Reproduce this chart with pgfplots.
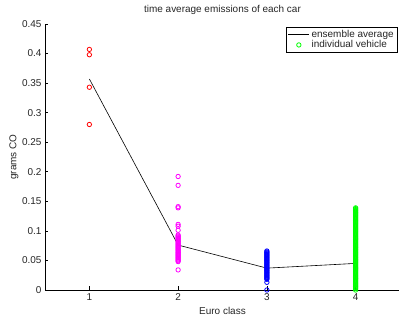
\documentclass[border=0pt]{standalone}
\usepackage{fontspec}
\setmainfont{Liberation Sans}
\usepackage{pgfplots}
\pgfplotsset{compat=1.18}
\definecolor{mred}{rgb}{1,0,0}
\definecolor{mmag}{rgb}{1,0,1}
\definecolor{mblue}{rgb}{0,0,1}
\definecolor{mgreen}{rgb}{0,1,0}
\begin{document}
\begin{tikzpicture}
\begin{axis}[
  name=ax,
  scale only axis,
  width=355bp, height=266bp,
  xmin=0.5, xmax=4.5, ymin=0, ymax=0.45,
  axis x line*=bottom, axis y line*=left,
  axis line style={line width=0.6pt, -},
  tick style={line width=0.6pt, black},
  tick align=inside,
  major tick length=3.5bp,
  xtick={1,2,3,4}, xticklabels={1,2,3,4},
  ytick={0,0.05,0.1,0.15,0.2,0.25,0.3,0.35,0.4,0.45},
  yticklabels={0,0.05,0.1,0.15,0.2,0.25,0.3,0.35,0.4,0.45},
  ticklabel style={font=\fontsize{10}{12}\selectfont, text=black!85},
  label style={font=\fontsize{10}{12}\selectfont, text=black!85},
  title style={font=\fontsize{10}{12}\selectfont, text=black!85},
  title={time average emissions of each car},
  xlabel={Euro class},
  ylabel={grams CO},
  ylabel style={at={(axis description cs:-0.0875,0.5)}, anchor=center},
  legend style={at={(1,1)}, anchor=north east, xshift=-2bp, yshift=-3bp,
    draw=black, line width=0.8pt, font=\fontsize{10}{12}\selectfont,
    inner xsep=2pt, inner ysep=1pt, row sep=-2.5pt, cells={anchor=west}},
  legend cell align=left,
  every axis legend/.append style={text=black!85},
]
\addlegendimage{black, line width=0.6pt, no marks, legend image code/.code={\draw[black, line width=0.6pt] (0bp,0bp) -- (21bp,0bp);}}
\addlegendentry{ensemble average}
\addlegendimage{only marks, mark=o, mark size=2.2bp, draw=mgreen, line width=0.8pt, legend image code/.code={\draw[mgreen, line width=0.8pt] (10.5bp,0bp) circle (2.2bp);}}
\addlegendentry{individual vehicle}

\addplot[only marks, mark=o, mark size=2.2bp, draw=mred, mark options={line width=0.8pt}, forget plot] coordinates {
(1,0.407) (1,0.398) (1,0.343) (1,0.280)};

\addplot[only marks, mark=o, mark size=2.2bp, draw=mmag, mark options={line width=0.8pt}, forget plot] coordinates {
(2,0.192) (2,0.177) (2,0.141) (2,0.139) (2,0.111) (2,0.108) (2,0.101)
(2,0.093) (2,0.0915) (2,0.090) (2,0.0885) (2,0.087) (2,0.0855) (2,0.084)
(2,0.0825) (2,0.081) (2,0.0795) (2,0.078) (2,0.0765) (2,0.075) (2,0.0735)
(2,0.072) (2,0.0705) (2,0.069) (2,0.0675) (2,0.066) (2,0.0645) (2,0.063)
(2,0.0615) (2,0.060) (2,0.0585) (2,0.057) (2,0.0555) (2,0.054) (2,0.0525)
(2,0.051) (2,0.0495) (2,0.048) (2,0.034)};

\addplot[only marks, mark=o, mark size=2.2bp, draw=mblue, mark options={line width=0.8pt}, forget plot] coordinates {
(3,0.066) (3,0.0645) (3,0.063) (3,0.0615) (3,0.060) (3,0.0585) (3,0.057)
(3,0.0555) (3,0.054) (3,0.0525) (3,0.051) (3,0.0495) (3,0.048) (3,0.0465)
(3,0.045) (3,0.0435) (3,0.042) (3,0.0405) (3,0.039) (3,0.0375) (3,0.036)
(3,0.0345) (3,0.033) (3,0.0315) (3,0.030) (3,0.0285) (3,0.027) (3,0.0255)
(3,0.024) (3,0.0225) (3,0.021) (3,0.0195) (3,0.018) (3,0.013) (3,0.000)};

\addplot[only marks, mark=o, mark size=2.2bp, draw=mgreen, mark options={line width=0.8pt}, forget plot] coordinates {
(4,0.139) (4,0.1375) (4,0.136) (4,0.1345) (4,0.133) (4,0.1315) (4,0.130)
(4,0.1285) (4,0.127) (4,0.1255) (4,0.124) (4,0.1225) (4,0.121) (4,0.1195)
(4,0.118) (4,0.1165) (4,0.115) (4,0.1135) (4,0.112) (4,0.1105) (4,0.109)
(4,0.1075) (4,0.106) (4,0.1045) (4,0.103) (4,0.1015) (4,0.100) (4,0.0985)
(4,0.097) (4,0.0955) (4,0.094) (4,0.0925) (4,0.091) (4,0.0895) (4,0.088)
(4,0.0865) (4,0.085) (4,0.0835) (4,0.082) (4,0.0805) (4,0.079) (4,0.0775)
(4,0.076) (4,0.0745) (4,0.073) (4,0.0715) (4,0.070) (4,0.0685) (4,0.067)
(4,0.0655) (4,0.064) (4,0.0625) (4,0.061) (4,0.0595) (4,0.058) (4,0.0565)
(4,0.055) (4,0.0535) (4,0.052) (4,0.0505) (4,0.049) (4,0.0475) (4,0.046)
(4,0.0445) (4,0.043) (4,0.0415) (4,0.040) (4,0.0385) (4,0.037) (4,0.0355)
(4,0.034) (4,0.0325) (4,0.031) (4,0.0295) (4,0.028) (4,0.0265) (4,0.025)
(4,0.0235) (4,0.022) (4,0.0205) (4,0.019) (4,0.0175) (4,0.016) (4,0.0145)
(4,0.013) (4,0.0115) (4,0.010) (4,0.0085) (4,0.007) (4,0.0055) (4,0.004)
(4,0.0025) (4,0.000)};

\addplot[black, line width=0.6pt, no marks, forget plot] coordinates {
(1,0.357) (2,0.076) (3,0.037) (4,0.045)};
\end{axis}
\pgfresetboundingbox
\path ([shift={(-45bp,-28bp)}]ax.south west) rectangle ([shift={(-1bp,24bp)}]ax.north east);
\end{tikzpicture}
\end{document}
